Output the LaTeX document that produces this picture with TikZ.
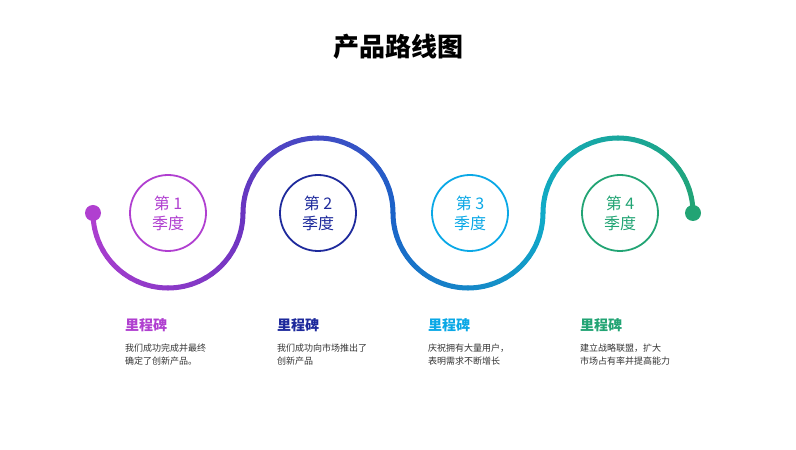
\documentclass[tikz,border=0pt]{standalone}
\usepackage{fontspec}
\setmainfont{Noto Sans CJK SC}
\usetikzlibrary{positioning}
\definecolor{qone}{HTML}{B03FD0}
\definecolor{qtwo}{HTML}{1E2A9C}
\definecolor{qthree}{HTML}{0AA8E6}
\definecolor{qfour}{HTML}{22A474}
\definecolor{mixa}{HTML}{6A34C0}
\definecolor{mixb}{HTML}{1B62C8}
\definecolor{mixc}{HTML}{10AAC8}
\definecolor{desctext}{HTML}{333333}
\tikzset{quarter/.style={shape=circle, draw, line width=1.8pt, minimum size=76pt, inner sep=0pt, align=center, font=\fontsize{16}{20}\selectfont}}
\tikzset{milestone/.style={anchor=west, inner sep=0pt, font=\fontsize{14}{16}\selectfont\bfseries}}
\tikzset{desc/.style={anchor=north west, inner sep=0pt, align=left, text=desctext, font=\fontsize{9}{13}\selectfont}}
\newcommand{\wavearc}[5]{%
  \foreach \i in {0,...,29} {
    \pgfmathsetmacro{\p}{\i/29*100}
    \pgfmathsetmacro{\a}{#2+(#3-#2)*\i/30}
    \pgfmathsetmacro{\b}{#2+(#3-#2)*(\i+1)/30}
    \draw[line width=5pt, line cap=round, color=#5!\p!#4]
      (#1,237) ++(\a:75pt) arc[start angle=\a, end angle=\b, radius=75pt];
  }}
\begin{document}
\begin{tikzpicture}[x=1pt, y=1pt]
  \useasboundingbox (0,0) rectangle (796,450);
  \node[inner sep=0pt, font=\fontsize{26}{30}\selectfont\bfseries] (title) at (398,403) {产品路线图};

  % wave line
  \wavearc{168}{180}{360}{qone}{mixa}
  \wavearc{318}{180}{0}{mixa}{mixb}
  \wavearc{468}{180}{360}{mixb}{mixc}
  \wavearc{618}{180}{0}{mixc}{qfour}
  \fill[qone] (93,237) circle (8pt);
  \fill[qfour] (693,237) circle (8pt);

  \node[quarter, draw=qone, text=qone] (Q1) at (168,237) {第 1\\季度};
  \node[quarter, draw=qtwo, text=qtwo] (Q2) at (318,237) {第 2\\季度};
  \node[quarter, draw=qthree, text=qthree] (Q3) at (470,237) {第 3\\季度};
  \node[quarter, draw=qfour, text=qfour] (Q4) at (620,237) {第 4\\季度};

  \node[milestone, text=qone] (M1) at (125,125) {里程碑};
  \node[milestone, text=qtwo] (M2) at (277,125) {里程碑};
  \node[milestone, text=qthree] (M3) at (428,125) {里程碑};
  \node[milestone, text=qfour] (M4) at (580,125) {里程碑};

  \node[desc] (D1) at (125,106) {我们成功完成并最终\\确定了创新产品。};
  \node[desc] (D2) at (277,106) {我们成功向市场推出了\\创新产品};
  \node[desc] (D3) at (428,106) {庆祝拥有大量用户，\\表明需求不断增长};
  \node[desc] (D4) at (580,106) {建立战略联盟，扩大\\市场占有率并提高能力};
\end{tikzpicture}
\end{document}
